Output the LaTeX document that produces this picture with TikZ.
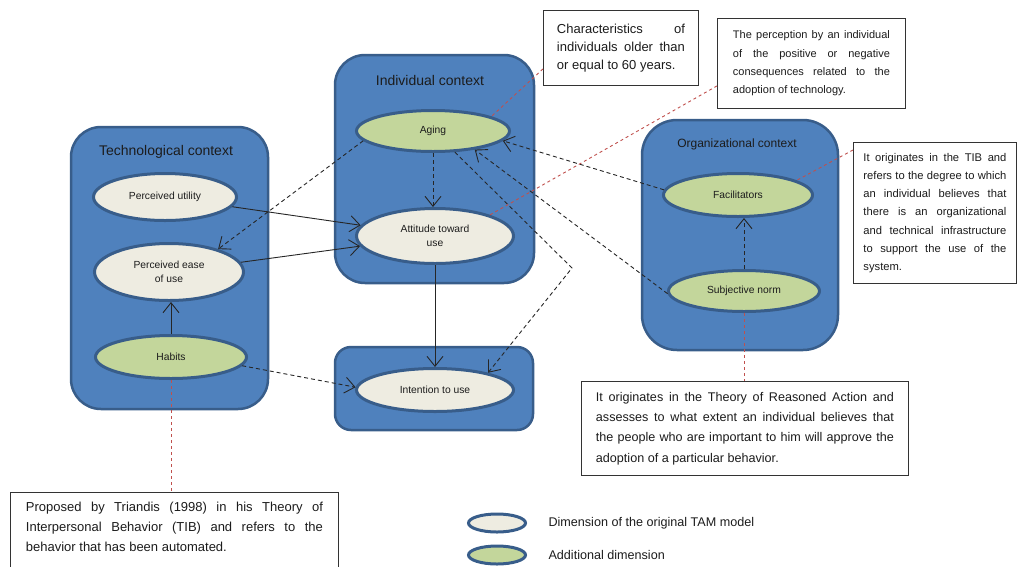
\documentclass[tikz,border=0pt]{standalone}
\usepackage{fontspec}
\setmainfont{Liberation Sans}
\usetikzlibrary{arrows.meta,calc,shapes.geometric}
\definecolor{ctxfill}{HTML}{4F81BD}
\definecolor{ctxline}{HTML}{385D8A}
\definecolor{tamfill}{HTML}{EEECE1}
\definecolor{addfill}{HTML}{C3D69B}
\definecolor{calloutred}{HTML}{C0504D}
\definecolor{inkdark}{HTML}{1C1C1C}
\hyphenpenalty=10000
\exhyphenpenalty=10000
\tolerance=9999
\emergencystretch=20pt
\begin{document}
\begin{tikzpicture}[x=1pt,y=-1pt,
  ctx/.style={draw=ctxline, fill=ctxfill, line width=2.5pt, rounded corners=#1},
  ctx/.default=30pt,
  dim/.style={ellipse, draw=ctxline, line width=3pt, inner sep=0pt, align=center,
    font=\fontsize{10.3}{14}\selectfont, text=inkdark},
  tam/.style={dim, fill=tamfill},
  addl/.style={dim, fill=addfill},
  ctxtitle/.style={font=\fontsize{14}{16}\selectfont, text=inkdark},
  note/.style={draw=black!80, line width=0.9pt, fill=white, anchor=north west,
    align=justify, inner ysep=0pt, text=inkdark},
  solidarrow/.style={draw=black!85, line width=0.9pt, -{Straight Barb[length=10pt,width=16pt]}},
  dasharrow/.style={solidarrow, dash pattern=on 4pt off 3pt},
  callout/.style={draw=calloutred, line width=0.9pt, dash pattern=on 3pt off 3pt},
  legtext/.style={anchor=west, font=\fontsize{12.6}{15}\selectfont, text=inkdark},
]
\path[use as bounding box] (0,0) rectangle (1018,566);
\clip (0,0) rectangle (1018,566);

% context boxes
\draw[ctx] (71,127) rectangle (268,409);
\draw[ctx] (335,55) rectangle (534,283);
\draw[ctx=16pt] (335,347) rectangle (533,430);
\draw[ctx=35pt] (642,120) rectangle (838,350);

\node[ctxtitle] (techtitle) at (166,152) {Technological context};
\node[ctxtitle] (indtitle) at (430,80) {Individual context};
\node[ctxtitle, font=\fontsize{12}{14}\selectfont] (orgtitle) at (737,144) {Organizational context};

% dimensions
\node[tam, minimum width=143, minimum height=47] (pu) at (165,197) {Perceived utility};
\node[tam, minimum width=149, minimum height=57] (pease) at (169,272) {Perceived ease\\of use};
\node[addl, minimum width=151, minimum height=43] (habits) at (171,357) {Habits};
\node[addl, minimum width=153, minimum height=41] (aging) at (433,131) {Aging};
\node[tam, minimum width=157, minimum height=55] (att) at (435,236) {Attitude toward\\use};
\node[tam, minimum width=157, minimum height=43] (int) at (435,390) {Intention to use};
\node[addl, minimum width=149, minimum height=43] (facil) at (738,195) {Facilitators};
\node[addl, minimum width=151, minimum height=41] (subj) at (744,291) {Subjective norm};

% connectors
\draw[solidarrow] (pu) -- (att);
\draw[solidarrow] (pease) -- (att);
\draw[solidarrow] (habits.north) -- (habits.north |- pease.south);
\draw[solidarrow] (att) -- (int);
\draw[dasharrow] (aging.188) -- (pease.25);
\draw[dasharrow] (aging.south) -- (aging.south |- att.north);
\draw[dasharrow] (facil.176) -- (aging.352);
\draw[dasharrow] (subj.182) -- (aging.336);
\coordinate (bend) at (572,268);
\draw[dasharrow] (aging.316) -- (bend) -- (int.18);
\draw[dasharrow] (habits.353) -- (int.178);
\draw[dasharrow] (subj.north) -- (subj.north |- facil.south);

% notes
\node[note, text width=128, inner xsep=13.5, minimum height=75,
  font=\fontsize{13}{18.3}\selectfont] (charnote) at (543,10)
  {Characteristics of individuals older than or equal to 60 years.};
\node[note, text width=157, inner xsep=15.5, minimum height=90,
  font=\fontsize{11}{18.3}\selectfont] (percnote) at (717,18)
  {The perception by an individual of the positive or negative consequences related to the adoption of technology.};
\node[note, text width=143, inner xsep=10, minimum height=141,
  font=\fontsize{11.2}{18.2}\selectfont] (tibnote) at (853,142)
  {It originates in the TIB and refers to the degree to which an individual believes that there is an organizational and technical infrastructure to support the use of the system.};
\node[note, text width=298, inner xsep=14.5, minimum height=94,
  font=\fontsize{12.6}{20.3}\selectfont] (ranote) at (581,381)
  {It originates in the Theory of Reasoned Action and assesses to what extent an individual believes that the people who are important to him will approve the adoption of a particular behavior.};
\node[note, text width=297, inner xsep=15.5, inner ysep=10,
  font=\fontsize{13}{20}\selectfont] (triandis) at (10,492)
  {Proposed by Triandis (1998) in his Theory of Interpersonal Behavior (TIB) and refers to the behavior that has been automated.\par\vspace*{30pt}};

% callouts
\draw[callout] ($(charnote.south west)+(0,-17)$) -- (aging.14);
\draw[callout] ($(percnote.south west)+(0,-23)$) -- (att.21);
\draw[callout] ($(tibnote.north west)+(0,8)$) -- (facil.14);
\draw[callout] (subj.south) -- (subj.south |- ranote.north);
\draw[callout] (habits.south) -- (habits.south |- triandis.north);

% legend
\node[tam, minimum width=57, minimum height=18] (legtam) at (497,523) {};
\node[addl, minimum width=57, minimum height=18] (legadd) at (497,555) {};
\node[legtext] (legtamtext) at (545,523) {Dimension of the original TAM model};
\node[legtext] (legaddtext) at (545,555) {Additional dimension};
\end{tikzpicture}
\end{document}
